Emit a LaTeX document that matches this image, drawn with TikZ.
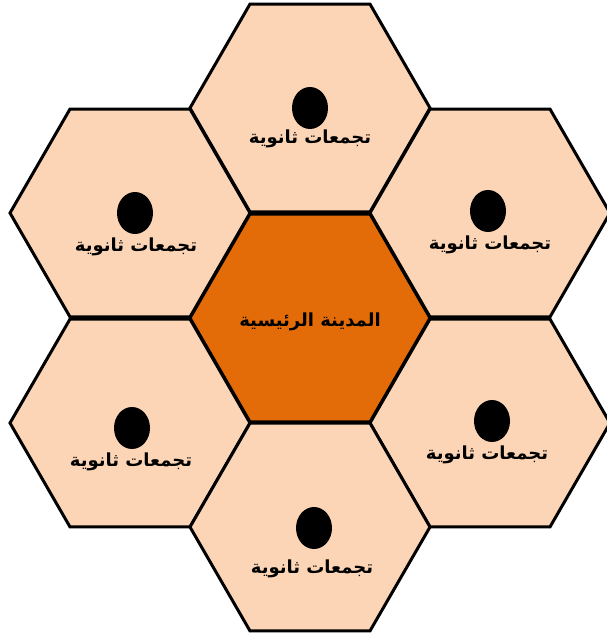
\documentclass[tikz,border=0pt]{standalone}
\usepackage{fontspec}
\usetikzlibrary{shapes.geometric}
\TeXXeTstate=1
\newfontfamily\arabicfont[Script=Arabic]{DejaVu Sans}
\definecolor{peach}{HTML}{FBD5B5}
\definecolor{burnt}{HTML}{E36C09}

\begin{document}
\begin{tikzpicture}[x=1pt, y=-1pt,
  hexa/.style={regular polygon, regular polygon sides=6, draw, line width=3pt, minimum size=240pt, inner sep=0pt, fill=peach},
  dot/.style={ellipse, fill=black, minimum width=36pt, minimum height=42pt, inner sep=0pt},
  lbl/.style={font=\arabicfont\bfseries\fontsize{18}{22}\selectfont, inner sep=0pt}]
\useasboundingbox (0,0) rectangle (607,637);
% outer ring
\node[hexa] (top) at (310,108) {};
\node[hexa] (tl) at (130,213) {};
\node[hexa] (tr) at (490,213) {};
\node[hexa] (bl) at (130,423) {};
\node[hexa] (br) at (490,423) {};
\node[hexa] (bot) at (310,527) {};
% centre
\node[hexa, fill=burnt] (main) at (310,318) {};
\node[lbl] (mainlbl) at (310,322) {\beginR المدينة الرئيسية\endR};
% dots and labels
\node[dot] (dtop) at (310,108) {};
\node[dot] (dtl) at (135,213) {};
\node[dot] (dtr) at (488,211) {};
\node[dot] (dbl) at (132,428) {};
\node[dot] (dbr) at (492,421) {};
\node[dot] (dbot) at (314,528) {};
\node[lbl] (ltop) at (310,139) {\beginR تجمعات ثانوية\endR};
\node[lbl] (ltl) at (136,247) {\beginR تجمعات ثانوية\endR};
\node[lbl] (ltr) at (490,245) {\beginR تجمعات ثانوية\endR};
\node[lbl] (lbl) at (131,462) {\beginR تجمعات ثانوية\endR};
\node[lbl] (lbr) at (487,455) {\beginR تجمعات ثانوية\endR};
\node[lbl] (lbot) at (312,569) {\beginR تجمعات ثانوية\endR};
\end{tikzpicture}
\end{document}
